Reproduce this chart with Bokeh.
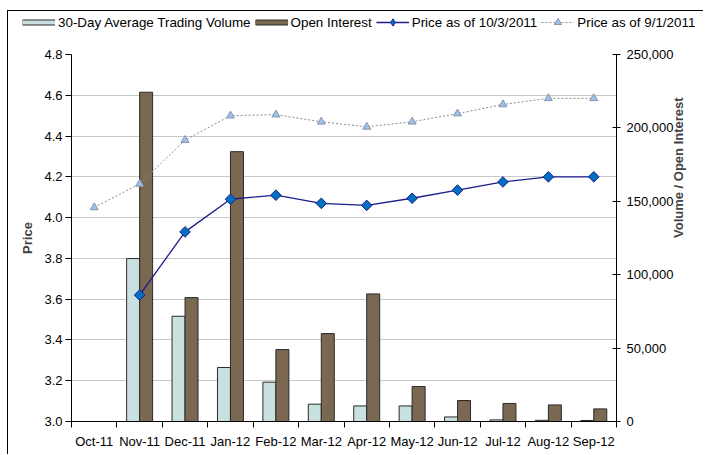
import math
import numpy as np
from bokeh.plotting import figure
from bokeh.models import (Range1d, LinearAxis, FixedTicker,
                          NumeralTickFormatter, ColumnDataSource, Legend, LegendItem)
from bokeh.embed import file_html
from bokeh.resources import INLINE

months = ["Oct-11", "Nov-11", "Dec-11", "Jan-12", "Feb-12", "Mar-12",
          "Apr-12", "May-12", "Jun-12", "Jul-12", "Aug-12", "Sep-12"]
price_ticks = [3.0, 3.2, 3.4, 3.6, 3.8, 4.0, 4.2, 4.4, 4.6, 4.8]
volume_ticks = [0, 50000, 100000, 150000, 200000, 250000]
# bars start at Nov-11 (index 1)
volume = [111000, 71700, 36800, 26800, 11800, 10600, 10600, 3100, 1100, 800, 700]
open_interest = [224300, 84400, 183800, 49000, 59900, 86900, 23800, 14300, 12300, 11300, 8600]
# Price as of 10/3/2011 starts at Nov-11
price_oct3 = [3.62, 3.93, 4.09, 4.11, 4.07, 4.06, 4.095, 4.135, 4.175, 4.20, 4.20]
# Price as of 9/1/2011 starts at Oct-11
price_sep1 = [4.05, 4.165, 4.38, 4.50, 4.505, 4.47, 4.445, 4.47, 4.51, 4.555, 4.585, 4.585]

FONT = "Liberation Sans"
VOL_COLOR = "#c8e0e0"
OI_COLOR = "#7a6852"
BAR_LINE = "#2a2a2a"
BLUE_LINE = "#1c1c8c"
DIAMOND_FILL = "#0070c0"
TRI_FILL = "#9cc0ee"
TRI_LINE = "#8a96aa"
DOT_LINE = "#8c8c8c"

n = len(months)
centers = np.arange(n) + 0.5
bw = 0.286

# ---------------- main chart ----------------
p = figure(width=696, height=409, x_range=Range1d(0, n),
           y_range=Range1d(price_ticks[0], price_ticks[-1]),
           output_backend="svg", toolbar_location=None,
           min_border_left=63, min_border_right=88, min_border_top=9, min_border_bottom=33)
p.styles = {"border-left": "1px solid #000000", "margin-left": "7px"}
p.outline_line_color = None
p.extra_y_ranges = {"vol": Range1d(volume_ticks[0], volume_ticks[-1])}

bar_src = ColumnDataSource(dict(
    xv=centers[1:] - bw / 2, xo=centers[1:] + bw / 2,
    vol=volume, oi=open_interest))
p.vbar(x="xv", top="vol", bottom=0, width=bw, source=bar_src, y_range_name="vol",
       fill_color=VOL_COLOR, line_color=BAR_LINE, line_width=1)
p.vbar(x="xo", top="oi", bottom=0, width=bw, source=bar_src, y_range_name="vol",
       fill_color=OI_COLOR, line_color=BAR_LINE, line_width=1)

dot_kw = dict(line_color=DOT_LINE, line_width=1, line_dash="2 2")
tri_kw = dict(marker="triangle", size=8, fill_color=TRI_FILL, line_color=TRI_LINE, line_width=1)
blue_kw = dict(line_color=BLUE_LINE, line_width=1.3)
dia_kw = dict(marker="square", angle=np.pi / 4, size=7.5, fill_color=DIAMOND_FILL,
              line_color=BLUE_LINE, line_width=1)

p.line(centers, price_sep1, **dot_kw)
p.scatter(centers, price_sep1, **tri_kw)
p.line(centers[1:], price_oct3, **blue_kw)
p.scatter(centers[1:], price_oct3, **dia_kw)

# x axis
xax = p.xaxis[0]
xax.ticker = FixedTicker(ticks=list(centers), minor_ticks=list(range(n + 1)))
xax.major_label_overrides = {float(c): m for c, m in zip(centers, months)}
xax.major_tick_in = 0
xax.major_tick_out = 0
xax.minor_tick_in = 0
xax.minor_tick_out = 6
xax.minor_tick_line_color = "#000000"
xax.axis_line_color = "#000000"
xax.major_label_standoff = 6
xax.major_label_text_font = FONT
xax.major_label_text_font_size = "13px"
xax.major_label_text_color = "#000000"

# left axis
yax = p.yaxis[0]
yax.ticker = FixedTicker(ticks=price_ticks, minor_ticks=[])
yax.formatter = NumeralTickFormatter(format="0.0")
yax.axis_label = "Price"
yax.major_tick_in = 0
yax.major_tick_out = 6
yax.minor_tick_line_color = None
yax.axis_line_color = "#000000"
yax.major_tick_line_color = "#000000"
yax.major_label_standoff = 3
yax.major_label_text_font = FONT
yax.major_label_text_font_size = "13px"
yax.major_label_text_color = "#000000"
yax.axis_label_text_font = FONT
yax.axis_label_text_font_size = "13px"
yax.axis_label_text_font_style = "bold"
yax.axis_label_standoff = 6

# right axis
rax = LinearAxis(y_range_name="vol", ticker=FixedTicker(ticks=volume_ticks, minor_ticks=[]),
                 formatter=NumeralTickFormatter(format="0,0"),
                 axis_label="Volume / Open Interest")
rax.major_tick_in = 4
rax.major_tick_out = 4
rax.minor_tick_line_color = None
rax.axis_line_color = "#000000"
rax.major_tick_line_color = "#000000"
rax.major_label_standoff = 6
rax.major_label_text_font = FONT
rax.major_label_text_font_size = "13px"
rax.major_label_text_color = "#000000"
rax.axis_label_text_font = FONT
rax.axis_label_text_font_size = "13px"
rax.axis_label_text_font_style = "bold"
rax.axis_label_standoff = 2
rax.axis_label_orientation = math.pi / 2
p.add_layout(rax, "right")

p.xgrid.visible = False
p.ygrid.grid_line_color = "#c8c8c8"
p.ygrid.grid_line_width = 1

# ---------------- legend strip (separate root, not frame-aligned) ----------------
lf = figure(width=696, height=35, x_range=Range1d(0, 1), y_range=Range1d(0, 1),
            x_axis_type=None, y_axis_type=None, output_backend="svg", toolbar_location=None,
            min_border_left=0, min_border_right=0, min_border_top=0, min_border_bottom=0)
lf.styles = {"border-left": "1px solid #000000", "border-top": "1px solid #000000",
             "margin-left": "7px", "margin-top": "10px"}
lf.outline_line_color = None
lf.xgrid.visible = False
lf.ygrid.visible = False

nan = [np.nan]
lv1 = lf.line(nan, nan, line_color=BAR_LINE, line_width=6)
lv2 = lf.line(nan, nan, line_color=VOL_COLOR, line_width=4)
lo1 = lf.line(nan, nan, line_color=BAR_LINE, line_width=6)
lo2 = lf.line(nan, nan, line_color=OI_COLOR, line_width=4)
lb1 = lf.line(nan, nan, **blue_kw)
lb2 = lf.scatter(nan, nan, marker="diamond", size=10, fill_color=DIAMOND_FILL,
                 line_color=BLUE_LINE, line_width=1)
ld1 = lf.line(nan, nan, **dot_kw)
ld2 = lf.scatter(nan, nan, **tri_kw)

legend = Legend(items=[
    LegendItem(label="30-Day Average Trading Volume", renderers=[lv1, lv2]),
    LegendItem(label="Open Interest", renderers=[lo1, lo2]),
    LegendItem(label="Price as of 10/3/2011", renderers=[lb1, lb2]),
    LegendItem(label="Price as of 9/1/2011", renderers=[ld1, ld2]),
], orientation="horizontal", location=(14, 15), margin=0, padding=0, spacing=4,
    glyph_width=33, glyph_height=18, label_height=18, label_standoff=3,
    border_line_color=None, background_fill_alpha=0,
    label_text_font=FONT, label_text_font_size="13.4px", label_text_color="#000000")
lf.add_layout(legend)

open("out.html", "w").write(file_html([lf, p], INLINE))
